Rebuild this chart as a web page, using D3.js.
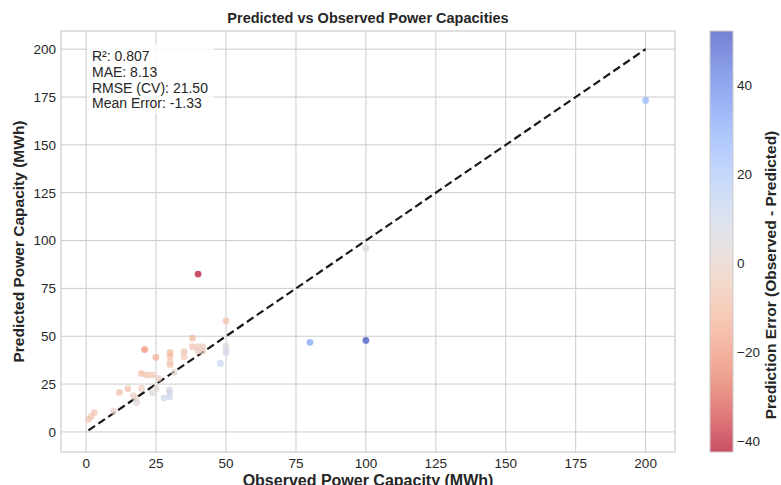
<!DOCTYPE html>
<html>
<head>
<meta charset="utf-8">
<script src="https://cdn.jsdelivr.net/npm/d3@7"></script>
<style>
  body { margin: 0; background: #fff; }
  text { font-family: "Liberation Sans", Arial, sans-serif; fill: #262626; }
</style>
</head>
<body>
<svg id="chart" width="781" height="485"></svg>
<script>
// observed vs predicted capacities (MWh)
const observed = [0.8, 1.8, 2.9, 9.8, 11.9, 14.9, 16.9, 17.7, 18.1, 19.8,
    19.8, 20.9, 21.8, 23.7, 23.7, 25, 25.9, 24.9, 27.8, 29.8,
    29.8, 29.8, 30, 30, 30, 30, 31.5, 35, 35, 38,
    38, 40, 40, 41.7, 41.7, 40, 48, 50, 50, 50,
    50, 80, 100, 100, 200];
const predicted = [6.6, 8, 10.1, 10.9, 20.7, 22.6, 19, 17.5, 15.2, 22.7,
    30.5, 43, 29.8, 29.8, 20.3, 22.6, 28, 39, 17.7, 18.4,
    20.6, 22, 35, 36.5, 39.5, 41.5, 31.2, 39.3, 42, 49,
    44.5, 44.5, 42.3, 44.5, 42.3, 82.5, 35.8, 58, 45, 42.8,
    41.4, 46.8, 47.8, 96, 173.2];

const xTicks = [0, 25, 50, 75, 100, 125, 150, 175, 200];
const yTicks = [0, 25, 50, 75, 100, 125, 150, 175, 200];
const cbTicks = [-40, -20, 0, 20, 40];

const statLines = ["R\u00b2: 0.807", "MAE: 8.13", "RMSE (CV): 21.50", "Mean Error: -1.33"];

// matplotlib coolwarm, reversed below (blue = under-predicted)
const coolwarm = [[59,76,192],[98,130,234],[141,176,254],[184,208,249],[221,221,221],
    [245,196,172],[244,154,123],[222,96,77],[180,4,38]];

const points = observed.map((o, i) => ({obs: o, pred: predicted[i], err: o - predicted[i]}));

const svg = d3.select("#chart");
const margin = {left: 61, right: 675, top: 31, bottom: 452};

const x = d3.scaleLinear().domain([-9, 210.5]).range([margin.left, margin.right]);
const y = d3.scaleLinear().domain([-10.5, 209.5]).range([margin.bottom, margin.top]);

const errExtent = d3.extent(points, d => d.err);
const cwInterp = d3.interpolateRgbBasis(coolwarm.map(c => d3.rgb(c[0], c[1], c[2])));
const color = d3.scaleSequential(t => cwInterp(1 - t)).domain(errExtent);

// grid
const grid = svg.append("g");
grid.selectAll(".gx").data(xTicks).enter().append("line")
    .attr("x1", d => x(d)).attr("x2", d => x(d))
    .attr("y1", margin.top).attr("y2", margin.bottom)
    .style("stroke", "#cccccc").style("stroke-width", 1);
grid.selectAll(".gy").data(yTicks).enter().append("line")
    .attr("x1", margin.left).attr("x2", margin.right)
    .attr("y1", d => y(d)).attr("y2", d => y(d))
    .style("stroke", "#cccccc").style("stroke-width", 1);

// tick labels
svg.append("g").selectAll("text").data(xTicks).enter().append("text")
    .attr("x", d => x(d)).attr("y", 468)
    .attr("text-anchor", "middle")
    .style("font-size", "13.5px")
    .text(d => d);
svg.append("g").selectAll("text").data(yTicks).enter().append("text")
    .attr("x", 56).attr("y", d => y(d) + 4.8)
    .attr("text-anchor", "end")
    .style("font-size", "13.5px")
    .text(d => d);

// identity line
const lo = d3.min(points, d => Math.min(d.obs, d.pred));
const hi = d3.max(points, d => Math.max(d.obs, d.pred));
svg.append("line")
    .attr("x1", x(lo)).attr("y1", y(lo))
    .attr("x2", x(hi)).attr("y2", y(hi))
    .style("stroke", "#1a1a1a")
    .style("stroke-width", 2.2)
    .style("stroke-dasharray", "8,4");

// points
svg.append("g").selectAll("circle").data(points).enter().append("circle")
    .attr("cx", d => x(d.obs))
    .attr("cy", d => y(d.pred))
    .attr("r", 3.4)
    .style("fill", d => color(d.err))
    .style("fill-opacity", 0.7);

// frame
svg.append("rect")
    .attr("x", margin.left).attr("y", margin.top)
    .attr("width", margin.right - margin.left)
    .attr("height", margin.bottom - margin.top)
    .style("fill", "none").style("stroke", "#cccccc").style("stroke-width", 1.2);

// stats box
svg.append("rect")
    .attr("x", 87).attr("y", 44).attr("width", 127).attr("height", 69)
    .attr("rx", 3)
    .style("fill", "white").style("fill-opacity", 0.8);
svg.append("g").selectAll("text").data(statLines).enter().append("text")
    .attr("x", 92).attr("y", (d, i) => 61 + i * 15.8)
    .style("font-size", "14px")
    .text(d => d);

// title + axis labels
svg.append("text")
    .attr("x", (margin.left + margin.right) / 2).attr("y", 23)
    .attr("text-anchor", "middle")
    .style("font-size", "14.5px").style("font-weight", "bold")
    .text("Predicted vs Observed Power Capacities");
svg.append("text")
    .attr("x", (margin.left + margin.right) / 2).attr("y", 486)
    .attr("text-anchor", "middle")
    .style("font-size", "16px").style("font-weight", "bold")
    .text("Observed Power Capacity (MWh)");
svg.append("text")
    .attr("transform", "translate(24," + (margin.top + margin.bottom) / 2 + ") rotate(-90)")
    .attr("text-anchor", "middle")
    .style("font-size", "15.5px").style("font-weight", "bold")
    .text("Predicted Power Capacity (MWh)");

// colorbar
const cbX = 710, cbW = 23;
const cbScale = d3.scaleLinear().domain(errExtent).range([margin.bottom, margin.top]);
const defs = svg.append("defs");
const grad = defs.append("linearGradient").attr("id", "cbgrad")
    .attr("x1", "0").attr("y1", "1").attr("x2", "0").attr("y2", "0");
d3.range(0, 1.0001, 0.05).forEach(t => {
    grad.append("stop").attr("offset", t)
        .attr("stop-color", color(errExtent[0] + t * (errExtent[1] - errExtent[0])));
});
svg.append("rect")
    .attr("x", cbX).attr("y", margin.top)
    .attr("width", cbW).attr("height", margin.bottom - margin.top)
    .style("fill", "url(#cbgrad)").style("fill-opacity", 0.7)
    .style("stroke", "#cccccc").style("stroke-width", 1);
svg.append("g").selectAll("text").data(cbTicks).enter().append("text")
    .attr("x", cbX + cbW + 4).attr("y", d => cbScale(d) + 4.8)
    .style("font-size", "13.5px")
    .text(d => d < 0 ? "\u2212" + Math.abs(d) : d);
svg.append("text")
    .attr("transform", "translate(776,275) rotate(-90)")
    .attr("text-anchor", "middle")
    .style("font-size", "15.5px").style("font-weight", "bold")
    .text("Prediction Error (Observed - Predicted)");
</script>
</body>
</html>
